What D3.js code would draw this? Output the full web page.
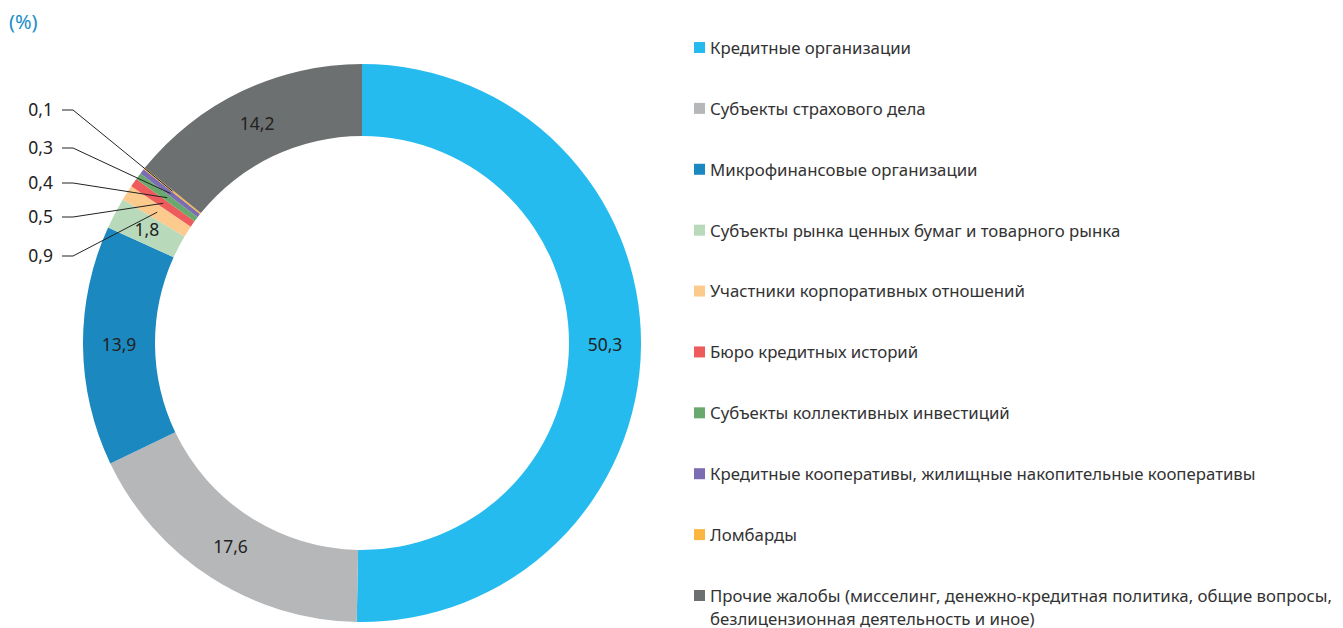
<!DOCTYPE html>
<html>
<head>
<meta charset="utf-8">
<script src="https://cdn.jsdelivr.net/npm/d3@7"></script>
<style>
  body { margin: 0; background: #fff; }
  svg text { font-family: "Noto Sans", "Open Sans", sans-serif; }
</style>
</head>
<body>
<svg id="chart" width="1343" height="628"></svg>
<script>
// categories in clockwise order from 12 o'clock
var categories = [
  "Кредитные организации",
  "Субъекты страхового дела",
  "Микрофинансовые организации",
  "Субъекты рынка ценных бумаг и товарного рынка",
  "Участники корпоративных отношений",
  "Бюро кредитных историй",
  "Субъекты коллективных инвестиций",
  "Кредитные кооперативы, жилищные накопительные кооперативы",
  "Ломбарды",
  "Прочие жалобы (мисселинг, денежно-кредитная политика, общие вопросы,|безлицензионная деятельность и иное)"
];
var values = [50.3, 17.6, 13.9, 1.8, 0.9, 0.5, 0.4, 0.3, 0.1, 14.2];
var valueLabels = ["50,3", "17,6", "13,9", "1,8", "0,9", "0,5", "0,4", "0,3", "0,1", "14,2"];
var colors = ["#25bbee", "#b6b7b9", "#1b88bf", "#b8d9ba", "#fdca8d", "#ee5b5c", "#69a96d", "#7c6db2", "#fbb641", "#6d7070"];

// small slices get their labels outside, with a leader line
var outsideIdx = [8, 7, 6, 5, 4];
var outsideY = [110, 148, 183, 217, 256];

var svg = d3.select("#chart");
var cx = 362, cy = 343, rOuter = 279, rInner = 207, rMid = (rOuter + rInner) / 2;

// subtitle
svg.append("text")
  .attr("x", 9).attr("y", 29)
  .attr("fill", "#1a8fc8")
  .style("font-size", "20px")
  .text("(%)");

var pie = d3.pie().sort(null).value(function(d) { return d; });
var arcs = pie(values);
var arc = d3.arc().innerRadius(rInner).outerRadius(rOuter);
var mid = d3.arc().innerRadius(rMid).outerRadius(rMid);

var g = svg.append("g").attr("transform", "translate(" + cx + "," + cy + ")");

g.selectAll("path.slice")
  .data(arcs)
  .enter().append("path")
  .attr("class", "slice")
  .attr("d", arc)
  .attr("fill", function(d, i) { return colors[i]; });

// inside labels
g.selectAll("text.val")
  .data(arcs.filter(function(d, i) { return outsideIdx.indexOf(i) < 0; }))
  .enter().append("text")
  .attr("class", "val")
  .attr("transform", function(d) { return "translate(" + mid.centroid(d) + ")"; })
  .attr("text-anchor", "middle")
  .attr("dy", "0.35em")
  .attr("fill", "#222")
  .style("font-size", "17.5px")
  .text(function(d) { return valueLabels[d.index]; });

// outside labels with leader lines
outsideIdx.forEach(function(idx, k) {
  var c = mid.centroid(arcs[idx]);
  var ly = outsideY[k];
  svg.append("polyline")
    .attr("points", [[62, ly], [73, ly], [cx + c[0], cy + c[1]]].map(function(p) { return p.join(","); }).join(" "))
    .attr("fill", "none")
    .attr("stroke", "#222")
    .attr("stroke-width", 1);
  svg.append("text")
    .attr("x", 53).attr("y", ly)
    .attr("text-anchor", "end")
    .attr("dy", "0.35em")
    .attr("fill", "#222")
    .style("font-size", "17.5px")
    .text(valueLabels[idx]);
});

// legend
var legendY = d3.scalePoint().domain(d3.range(categories.length)).range([48, 596]);
var legend = svg.append("g");
categories.forEach(function(name, i) {
  var y = legendY(i);
  legend.append("rect")
    .attr("x", 694).attr("y", y - 6)
    .attr("width", 11).attr("height", 11)
    .attr("fill", colors[i]);
  name.split("|").forEach(function(line, j) {
    legend.append("text")
      .attr("x", 710).attr("y", y + j * 23)
      .attr("dy", "0.35em")
      .attr("fill", "#333")
      .style("font-size", "16.8px")
      .text(line);
  });
});
</script>
</body>
</html>
